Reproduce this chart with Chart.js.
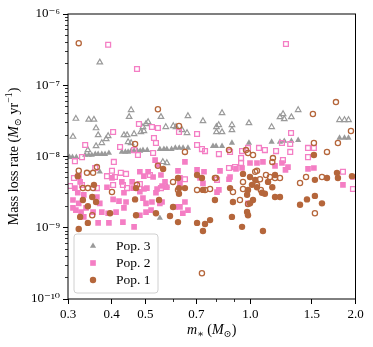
<!DOCTYPE html>
<html>
<head>
<meta charset="utf-8">
<script src="https://cdn.jsdelivr.net/npm/chart.js@4.4.1/dist/chart.umd.min.js"></script>
<style>
  html, body { margin: 0; padding: 0; background: #fff; }
  canvas { display: block; }
</style>
</head>
<body>
<canvas id="chart" width="373" height="347" style="width:373px;height:347px"></canvas>
<script>
// Pop. 3 (triangles)
const pop3FilledMass = [0.303, 0.309, 0.317, 0.336, 0.344, 0.351, 0.359, 0.366, 0.375, 0.383, 0.393, 0.428, 0.438, 0.446, 0.455, 0.464, 0.474, 0.483, 0.492, 0.506, 0.550, 0.565, 0.576, 0.594, 0.609, 0.625, 0.641, 0.662, 0.781, 0.797, 0.829, 0.885, 0.990, 1.15, 1.215, 1.25, 1.31, 1.37, 1.80, 1.86, 1.91, 0.37, 0.55, 0.576];
const pop3FilledRate = [9.8e-9, 9.8e-9, 9.8e-9, 1.05e-8, 1.05e-8, 1.05e-8, 1.08e-8, 1.08e-8, 1.08e-8, 1.08e-8, 1.12e-8, 1.16e-8, 1.16e-8, 1.16e-8, 1.2e-8, 1.2e-8, 1.2e-8, 1.2e-8, 1.23e-8, 1.23e-8, 1.27e-8, 1.27e-8, 1.27e-8, 1.27e-8, 1.32e-8, 1.32e-8, 1.32e-8, 1.32e-8, 1.4e-8, 1.4e-8, 1.4e-8, 1.55e-8, 1.55e-8, 1.6e-8, 1.6e-8, 1.65e-8, 1.65e-8, 1.7e-8, 1.82e-8, 1.82e-8, 1.82e-8, 6.1e-9, 1.37e-9, 3.85e-9];
const pop3OpenMass = [0.37, 0.31, 0.316, 0.344, 0.356, 0.361, 0.366, 0.361, 0.342, 0.375, 0.386, 0.391, 0.449, 0.455, 0.434, 0.443, 0.446, 0.455, 0.464, 0.492, 0.502, 0.509, 0.485, 0.495, 0.554, 0.572, 0.601, 0.612, 0.662, 0.637, 0.658, 0.561, 0.576, 0.731, 0.829, 0.799, 0.811, 0.799, 0.829, 0.885, 0.885, 0.990, 1.15, 1.215, 1.24, 1.25, 1.31, 1.37, 1.80, 1.86, 1.91];
const pop3OpenRate = [2.1e-7, 1.9e-8, 3.4e-8, 3.3e-8, 3.3e-8, 2.5e-8, 2.0e-8, 1.4e-8, 1.23e-8, 1.55e-8, 1.76e-8, 1.94e-8, 3.6e-8, 4.5e-8, 2.0e-8, 2.0e-8, 1.6e-8, 1.55e-8, 2.07e-8, 2.6e-8, 2.86e-8, 3.05e-8, 2.2e-8, 2.28e-8, 3.6e-8, 2.6e-8, 2.68e-8, 2.6e-8, 3.7e-8, 2.35e-8, 2.14e-8, 8.4e-9, 8.1e-9, 3.15e-8, 4.08e-8, 2.6e-8, 2.77e-8, 2.2e-8, 2.2e-8, 2.77e-8, 2.35e-8, 2.95e-8, 2.6e-8, 3.58e-8, 3.95e-8, 3.36e-8, 3.58e-8, 4.5e-8, 3.26e-8, 3.26e-8, 3.26e-8];

// Pop. 2 (squares)
const pop2FilledMass = [0.533, 0.543, 0.649, 0.620, 0.509, 0.482, 0.495, 0.526, 0.554, 0.569, 0.576, 0.628, 0.628, 0.703, 0.736, 0.717, 0.731, 0.818, 0.874, 0.802, 0.909, 0.946, 0.997, 1.044, 1.086, 1.176, 1.231, 1.281, 1.26, 1.462, 1.52, 1.841, 1.967, 0.401, 0.428, 0.458, 0.388, 0.325, 0.314, 0.505, 0.540, 0.558, 0.461, 0.495, 0.536, 0.434, 0.482, 0.320, 0.333, 0.363, 0.404, 0.492, 0.649, 0.310, 0.322, 0.370, 0.420, 0.440, 0.502, 0.522, 0.550, 0.316, 0.327, 0.338, 0.354, 0.375, 0.391, 0.412, 0.434, 0.502, 0.519, 0.608, 0.628, 0.662, 0.640, 0.482, 0.366, 0.393, 0.431, 0.464, 0.333, 0.310, 0.558, 0.812, 0.984, 0.868];
const pop2FilledRate = [8.9e-9, 7.6e-9, 8.4e-9, 6.3e-9, 6.1e-9, 6.1e-9, 5.3e-9, 5.15e-9, 5.5e-9, 4.4e-9, 3.7e-9, 5.0e-9, 4.2e-9, 6.5e-9, 6.1e-9, 5.0e-9, 4.2e-9, 6.3e-9, 5.15e-9, 3.17e-9, 6.7e-9, 6.9e-9, 8.1e-9, 8.1e-9, 8.4e-9, 7.4e-9, 8.1e-9, 7.1e-9, 6.5e-9, 6.7e-9, 6.9e-9, 4.0e-9, 5.15e-9, 5.0e-9, 4.4e-9, 4.4e-9, 3.7e-9, 4.4e-9, 3.6e-9, 3.6e-9, 3.5e-9, 3.85e-9, 3.6e-9, 3.5e-9, 3.1e-9, 3.1e-9, 3.2e-9, 3.1e-9, 2.9e-9, 2.7e-9, 2.5e-9, 2.6e-9, 2.3e-9, 2.45e-9, 2.2e-9, 2.2e-9, 2.37e-9, 2.3e-9, 2.2e-9, 2.3e-9, 2.2e-9, 1.77e-9, 1.66e-9, 1.9e-9, 1.66e-9, 1.66e-9, 1.6e-9, 1.66e-9, 1.9e-9, 1.66e-9, 1.77e-9, 1.96e-9, 1.96e-9, 1.77e-9, 1.6e-9, 1.5e-9, 1.17e-9, 1.17e-9, 1.2e-9, 1.03e-9, 1.42e-9, 1.9e-9, 2.3e-9, 3.4e-9, 2.2e-9, 4.8e-9];
const pop2OpenMass = [0.391, 0.473, 1.264, 0.479, 0.522, 0.543, 0.404, 0.529, 0.536, 0.336, 0.423, 0.464, 0.476, 0.314, 0.329, 0.406, 0.624, 0.703, 0.703, 0.726, 0.741, 0.812, 0.874, 0.946, 0.984, 1.058, 1.10, 1.184, 1.231, 1.307, 1.30, 1.30, 1.462, 1.52, 1.462, 0.940, 0.940, 0.868, 0.903, 1.239, 0.526, 1.841, 0.312, 0.322, 0.304, 0.329, 0.388, 0.409, 0.425, 0.440, 0.404, 0.431, 0.482, 0.515, 0.359, 0.401, 0.363, 0.443, 0.649, 0.802, 0.554, 1.967];
const pop2OpenRate = [3.7e-7, 1.69e-7, 3.8e-7, 2.86e-8, 2.6e-8, 2.51e-8, 2.21e-8, 1.82e-8, 1.55e-8, 1.45e-8, 1.36e-8, 1.23e-8, 1.05e-8, 8.6e-9, 9.8e-9, 8.4e-9, 2.21e-8, 2.07e-8, 1.45e-8, 1.27e-8, 1.19e-8, 1.08e-8, 1.16e-8, 1.19e-8, 1.32e-8, 1.32e-8, 1.23e-8, 1.19e-8, 1.55e-8, 2.14e-8, 1.5e-8, 1.16e-8, 1.32e-8, 1.32e-8, 9.8e-9, 9.5e-9, 8.1e-9, 6.9e-9, 7.1e-9, 8.9e-9, 1.12e-8, 6.1e-9, 5.0e-9, 5.3e-9, 3.85e-9, 3.98e-9, 5.3e-9, 5.15e-9, 5.9e-9, 5.7e-9, 3.98e-9, 3.98e-9, 4.1e-9, 5.5e-9, 6.9e-9, 6.3e-9, 3.6e-9, 3.6e-9, 4.8e-9, 4.7e-9, 3.6e-9, 3.5e-9];

// Pop. 1 (circles)
const pop1FilledMass = [0.320, 0.356, 0.470, 0.467, 0.331, 0.352, 0.361, 0.342, 0.396, 0.470, 0.536, 0.588, 0.325, 0.342, 0.322, 0.547, 0.620, 0.620, 0.624, 0.624, 0.600, 0.649, 0.703, 0.726, 0.731, 0.791, 0.703, 0.741, 0.766, 0.731, 0.885, 0.946, 0.874, 0.891, 0.997, 1.032, 1.010, 1.044, 0.984, 0.978, 1.017, 0.997, 0.978, 0.984, 1.123, 1.155, 1.079, 1.10, 1.176, 1.215, 1.53, 1.657, 1.77, 1.781, 1.954, 1.53, 1.452, 1.603, 1.387, 1.086, 1.176, 1.52, 0.562, 0.952];
const pop1FilledRate = [5.3e-9, 4.0e-9, 3.6e-9, 2.5e-9, 2.45e-9, 2.7e-9, 2.3e-9, 2.0e-9, 1.6e-9, 1.5e-9, 1.6e-9, 1.46e-9, 1.42e-9, 1.17e-9, 9.6e-10, 2.45e-9, 1.2e-9, 5.0e-9, 3.6e-9, 3.0e-9, 1.96e-9, 3.6e-9, 5.5e-9, 5.0e-9, 3.4e-9, 2.45e-9, 1.17e-9, 1.13e-9, 1.28e-9, 9.0e-10, 1.42e-9, 1.03e-9, 3.6e-9, 2.3e-9, 5.15e-9, 4.7e-9, 4.0e-9, 3.7e-9, 3.4e-9, 2.9e-9, 2.45e-9, 2.2e-9, 1.66e-9, 1.5e-9, 4.4e-9, 3.7e-9, 3.1e-9, 3.0e-9, 2.7e-9, 2.7e-9, 4.7e-9, 5.0e-9, 5.9e-9, 5.0e-9, 5.3e-9, 2.8e-9, 2.5e-9, 2.2e-9, 2.1e-9, 9.0e-10, 5.5e-9, 1.05e-8, 6.7e-9, 5.7e-9];
const pop1OpenMass = [0.322, 0.543, 1.758, 1.51, 1.941, 1.781, 1.52, 1.657, 0.868, 0.649, 0.971, 0.984, 1.017, 1.16, 1.155, 1.032, 1.108, 1.137, 1.176, 1.215, 1.065, 1.387, 1.443, 1.603, 1.53, 0.797, 0.467, 0.543, 0.363, 0.322, 0.340, 0.354, 0.331, 0.342, 0.354, 0.401, 0.473, 0.600, 0.703, 0.741, 0.766, 0.791, 0.952, 0.952, 0.891, 0.933, 0.984, 1.044, 1.044, 1.071, 0.726, 0.624, 0.352, 0.620];
const pop1OpenRate = [3.9e-7, 4.6e-8, 5.8e-8, 3.95e-8, 2.28e-8, 1.55e-8, 1.55e-8, 1.16e-8, 1.23e-8, 1.16e-8, 1.23e-8, 1.12e-8, 1.05e-8, 9.5e-9, 8.4e-9, 6.1e-9, 5.5e-9, 5.15e-9, 5.0e-9, 5.0e-9, 4.8e-9, 4.25e-9, 5.15e-9, 5.15e-9, 1.6e-9, 5.0e-9, 1.5e-8, 7.4e-9, 7.1e-9, 6.3e-9, 5.9e-9, 5.9e-9, 3.6e-9, 3.6e-9, 3.6e-9, 3.17e-9, 4.0e-9, 4.4e-9, 3.4e-9, 3.4e-9, 3.5e-9, 5.0e-9, 4.4e-9, 3.5e-9, 3.17e-9, 2.45e-9, 2.15e-9, 6.3e-9, 4.0e-9, 3.4e-9, 2.3e-10, 2.68e-8, 1.5e-9, 3.4e-9];

// axes
const xTickValues = [0.3, 0.4, 0.5, 0.6, 0.7, 0.8, 0.9, 1.0, 1.5, 2.0];
const xTickLabels = ['0.3', '0.4', '0.5', '', '0.7', '', '', '1.0', '1.5', '2.0'];
const yDecades = [-10, -9, -8, -7, -6];
const yMinorMult = [2, 3, 4, 5, 6, 7, 8, 9];
const legendLabels = ['Pop. 3', 'Pop. 2', 'Pop. 1'];

const SERIF = "'Liberation Serif', 'DejaVu Serif', serif";
const C_GRAY = '#9a9a9a';
const C_PINK = '#f47ec4';
const C_BROWN = '#b5663b';
const CLEAR = 'rgba(255,255,255,0)';

function pts(xs, ys) {
  return xs.map((x, i) => ({ x, y: ys[i] }));
}

const yTickValues = [];
yDecades.forEach((e, i) => {
  yTickValues.push(Math.pow(10, e));
  if (i < yDecades.length - 1) yMinorMult.forEach(m => yTickValues.push(m * Math.pow(10, e)));
});

const SUP = { '-': '⁻', '0': '⁰', '1': '¹', '2': '²', '3': '³', '4': '⁴', '5': '⁵', '6': '⁶', '7': '⁷', '8': '⁸', '9': '⁹' };
function decadeOf(v) {
  const l = Math.log10(v);
  return Math.abs(l - Math.round(l)) < 1e-6 ? Math.round(l) : null;
}
function isXMajor(v) {
  const i = xTickValues.findIndex(t => Math.abs(t - v) < 1e-9);
  return i >= 0 && xTickLabels[i] !== '';
}

function fontFor(seg, size) {
  const s = (seg.sub || seg.sup) ? size * 0.7 : size;
  return `${seg.it ? 'italic ' : ''}${s}px ${SERIF}`;
}
function drawRich(ctx, segs, cx, baseline, size) {
  let w = 0;
  segs.forEach(s => { ctx.font = fontFor(s, size); w += ctx.measureText(s.t).width; });
  let x = cx - w / 2;
  ctx.textAlign = 'left';
  ctx.textBaseline = 'alphabetic';
  segs.forEach(s => {
    ctx.font = fontFor(s, size);
    const dy = s.sub ? size * 0.22 : (s.sup ? -size * 0.4 : 0);
    ctx.fillText(s.t, x, baseline + dy);
    x += ctx.measureText(s.t).width;
  });
}

const xTitle = [{ t: 'm', it: 1 }, { t: '∗', sub: 1 }, { t: ' (' }, { t: 'M', it: 1 }, { t: '⊙', sub: 1 }, { t: ')' }];
const yTitle = [{ t: 'Mass loss rate (' }, { t: 'M', it: 1 }, { t: '⊙', sub: 1 }, { t: ' yr' }, { t: '−1', sup: 1 }, { t: ')' }];

const decorations = {
  id: 'decorations',
  afterDatasetsDraw(chart) {
    const { ctx, chartArea: a } = chart;
    ctx.save();
    // frame
    ctx.strokeStyle = '#000';
    ctx.lineWidth = 1;
    ctx.strokeRect(a.left, a.top, a.right - a.left, a.bottom - a.top);

    // legend box
    const lx = 74, ly = 234, lw = 84, lh = 59, r = 3;
    ctx.beginPath();
    ctx.moveTo(lx + r, ly);
    ctx.arcTo(lx + lw, ly, lx + lw, ly + lh, r);
    ctx.arcTo(lx + lw, ly + lh, lx, ly + lh, r);
    ctx.arcTo(lx, ly + lh, lx, ly, r);
    ctx.arcTo(lx, ly, lx + lw, ly, r);
    ctx.closePath();
    ctx.fillStyle = 'rgba(255,255,255,0.8)';
    ctx.fill();
    ctx.strokeStyle = '#d0d0d0';
    ctx.stroke();

    const entries = [
      { style: 'triangle', radius: 3.6, color: C_GRAY },
      { style: 'rect', radius: 4, color: C_PINK },
      { style: 'circle', radius: 3.2, color: C_BROWN }
    ];
    entries.forEach((e, i) => {
      const y = 246 + i * 17;
      ctx.fillStyle = e.color;
      Chart.helpers.drawPoint(ctx, { pointStyle: e.style, radius: e.radius, borderWidth: 0, rotation: 0 }, 93, y);
      ctx.fillStyle = '#000';
      ctx.font = `13.5px ${SERIF}`;
      ctx.textAlign = 'left';
      ctx.textBaseline = 'middle';
      ctx.fillText(legendLabels[i], 116, y + 0.5);
    });
    ctx.restore();
  },
  afterDraw(chart) {
    const { ctx, chartArea: a } = chart;
    ctx.save();
    ctx.fillStyle = '#000';
    drawRich(ctx, xTitle, (a.left + a.right) / 2, 334, 14);
    ctx.translate(18, (a.top + a.bottom) / 2);
    ctx.rotate(-Math.PI / 2);
    drawRich(ctx, yTitle, 0, 0, 14);
    ctx.restore();
  }
};

const tickFont = { family: SERIF, size: 13 };

new Chart(document.getElementById('chart'), {
  type: 'scatter',
  data: {
    datasets: [
      { label: 'Pop. 1', data: pts(pop1FilledMass, pop1FilledRate), pointStyle: 'circle', pointRadius: 3.2, backgroundColor: C_BROWN, borderColor: C_BROWN, borderWidth: 0, order: 1 },
      { label: 'Pop. 1 (open)', data: pts(pop1OpenMass, pop1OpenRate), pointStyle: 'circle', pointRadius: 2.6, backgroundColor: CLEAR, borderColor: C_BROWN, borderWidth: 1.3, order: 2 },
      { label: 'Pop. 2', data: pts(pop2FilledMass, pop2FilledRate), pointStyle: 'rect', pointRadius: 4, backgroundColor: C_PINK, borderColor: C_PINK, borderWidth: 0, order: 3 },
      { label: 'Pop. 2 (open)', data: pts(pop2OpenMass, pop2OpenRate), pointStyle: 'rect', pointRadius: 3.4, backgroundColor: CLEAR, borderColor: C_PINK, borderWidth: 1.3, order: 4 },
      { label: 'Pop. 3', data: pts(pop3FilledMass, pop3FilledRate), pointStyle: 'triangle', pointRadius: 3.6, backgroundColor: C_GRAY, borderColor: C_GRAY, borderWidth: 0, order: 5 },
      { label: 'Pop. 3 (open)', data: pts(pop3OpenMass, pop3OpenRate), pointStyle: 'triangle', pointRadius: 3.2, backgroundColor: CLEAR, borderColor: C_GRAY, borderWidth: 1.2, order: 6 }
    ]
  },
  options: {
    responsive: false,
    animation: false,
    devicePixelRatio: 1,
    events: [],
    layout: { padding: { top: 14, right: 17.5, left: 0, bottom: 0 } },
    plugins: { legend: { display: false }, tooltip: { enabled: false } },
    scales: {
      x: {
        type: 'logarithmic',
        min: 0.3,
        max: 2.0,
        afterBuildTicks: (s) => { s.ticks = xTickValues.map(v => ({ value: v })); },
        afterFit: (s) => { s.height = 48; },
        border: { display: false },
        grid: {
          drawOnChartArea: false,
          drawTicks: true,
          tickLength: 5,
          tickColor: '#000',
          tickWidth: (c) => isXMajor(c.tick.value) ? 1 : 0.8,
          tickBorderDash: (c) => isXMajor(c.tick.value) ? [] : [3, 20]
        },
        ticks: {
          autoSkip: false,
          maxRotation: 0,
          minRotation: 0,
          padding: 3,
          color: '#000',
          font: tickFont,
          callback: (v) => {
            const i = xTickValues.findIndex(t => Math.abs(t - v) < 1e-9);
            return i >= 0 ? xTickLabels[i] : '';
          }
        }
      },
      y: {
        type: 'logarithmic',
        min: 1e-10,
        max: 1e-6,
        afterBuildTicks: (s) => { s.ticks = yTickValues.map(v => ({ value: v })); },
        afterFit: (s) => { s.width = 68; },
        border: { display: false },
        grid: {
          drawOnChartArea: false,
          drawTicks: true,
          tickLength: 5,
          tickColor: '#000',
          tickWidth: (c) => decadeOf(c.tick.value) !== null ? 1 : 0.8,
          tickBorderDash: (c) => decadeOf(c.tick.value) !== null ? [] : [3, 2],
          tickBorderDashOffset: (c) => decadeOf(c.tick.value) !== null ? 0 : 3
        },
        ticks: {
          autoSkip: false,
          padding: 3,
          color: '#000',
          font: tickFont,
          callback: (v) => {
            const e = decadeOf(v);
            if (e === null) return '';
            return '10' + String(e).split('').map(ch => SUP[ch]).join('');
          }
        }
      }
    }
  },
  plugins: [decorations]
});
</script>
</body>
</html>
